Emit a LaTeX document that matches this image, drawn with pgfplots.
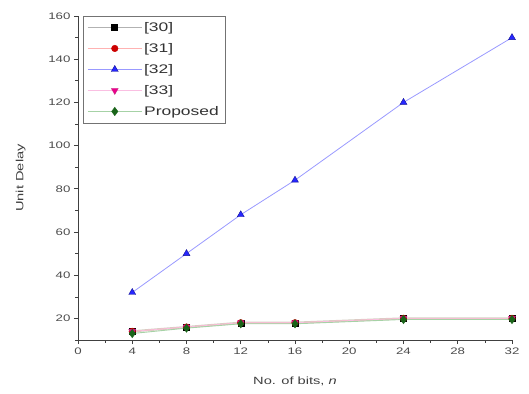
\documentclass[border=0pt]{standalone}
\usepackage{pgfplots}
\pgfplotsset{compat=1.18}
\usepackage{fontspec}
\setmainfont[FakeStretch=1.4]{Liberation Sans}
\definecolor{navy}{RGB}{20,20,150}
\definecolor{dgreen}{RGB}{25,100,25}
\definecolor{band}{RGB}{212,208,195}
\begin{document}
\begin{tikzpicture}
\path[use as bounding box] (-78bp,-54bp) rectangle (451bp,340bp);
\begin{axis}[
  at={(0,0)}, anchor=south west,
  scale only axis, width=434bp, height=324bp,
  xmin=0, xmax=32, ymin=10, ymax=160,
  axis x line*=bottom, axis y line*=left,
  axis line style={black!75, line width=0.6pt},
  xtick={0,4,...,32}, minor xtick={2,6,...,30},
  ytick={20,40,...,160}, minor ytick={10,30,...,150},
  tick align=outside, major tick length=4bp, minor tick length=2.5bp,
  tick style={black!75, line width=0.6pt},
  /pgf/number format/assume math mode=true,
  ticklabel style={font=\fontsize{9.5}{11}\selectfont, text=black!70},
  xlabel={No. of bits, \textit{n}},
  ylabel={Unit Delay},
  label style={font=\fontsize{10.5}{12}\selectfont, text=black!75},
  xlabel style={yshift=-16bp},
  ylabel style={yshift=16bp},
  legend style={at={(rel axis cs:0.012,1)}, anchor=north west, draw=black!55,
    font=\fontsize{12.5}{14}\selectfont, row sep=6.5bp, inner sep=4bp,
    legend cell align=left, text=black!80},
  legend image code/.code={
    \draw[mark repeat=2, mark phase=2, #1] plot coordinates {(0cm,0cm) (0.95cm,0cm) (1.9cm,0cm)};
  },
  clip=false,
]
\addplot[color=band, line width=2.2pt, mark=square*, mark size=3bp, mark options={solid, fill=black, draw=black, line width=0.4pt}, legend image post style={line width=0.7pt, color=black!30, mark options={fill=black, draw=black}}]
  coordinates {(4,14) (8,16) (12,18) (16,18) (24,20) (32,20)};
\addlegendentry{[30]}
\addplot[color=red!30, line width=0.7pt, mark=*, mark size=3.3bp, mark options={solid, fill=red!80!black, draw=red!80!black, line width=0.4pt}]
  coordinates {(4,14) (8,16) (12,18) (16,18) (24,20) (32,20)};
\addlegendentry{[31]}
\addplot[color=blue!40, line width=0.8pt, mark=triangle*, mark size=4bp, mark options={solid, fill=blue!85, draw=navy, line width=0.4pt}]
  coordinates {(4,32) (8,50) (12,68) (16,84) (24,120) (32,150)};
\addlegendentry{[32]}
\addplot[color=magenta!25, line width=0.7pt, mark=triangle*, mark size=4bp, mark options={solid, rotate=180, fill=magenta, draw=magenta!80!black, line width=0.4pt}]
  coordinates {(4,14) (8,16) (12,18) (16,18) (24,20) (32,20)};
\addlegendentry{[33]}
\addplot[color=green!50!black!35, line width=0.9pt, mark=diamond*, mark size=4.2bp, mark options={solid, fill=dgreen, draw=dgreen, line width=0.4pt}]
  coordinates {(4,13) (8,15.5) (12,17.5) (16,17.5) (24,19.5) (32,19.5)};
\addlegendentry{Proposed}
\end{axis}
\end{tikzpicture}
\end{document}
